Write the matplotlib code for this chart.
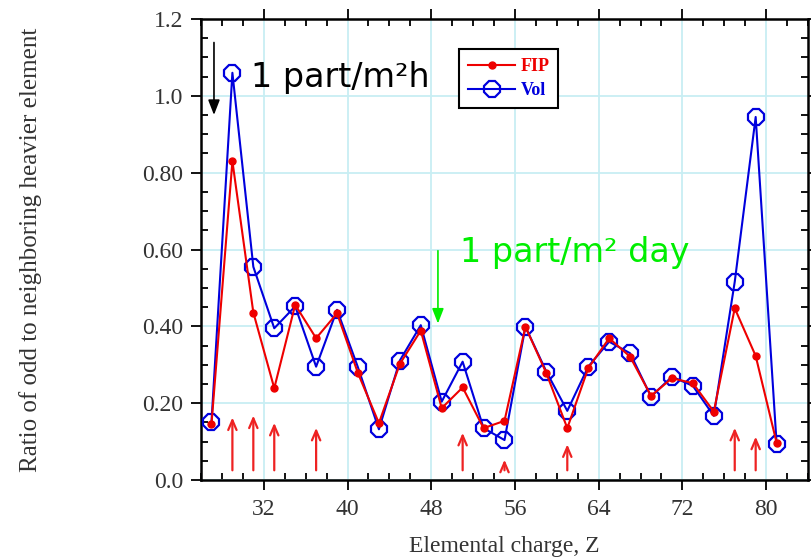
import matplotlib.pyplot as plt
from matplotlib.ticker import MultipleLocator, FixedFormatter, FixedLocator

# odd elements Z and ratio to the next (even) heavier element
z_odd = [27, 29, 31, 33, 35, 37, 39, 41, 43, 45, 47, 49, 51, 53, 55,
         57, 59, 61, 63, 65, 67, 69, 71, 73, 75, 77, 79, 81]
fip = [0.145, 0.83, 0.436, 0.239, 0.456, 0.369, 0.434, 0.278, 0.148, 0.302,
       0.389, 0.187, 0.241, 0.135, 0.154, 0.399, 0.278, 0.135, 0.291, 0.369,
       0.321, 0.219, 0.265, 0.252, 0.178, 0.447, 0.323, 0.097]
vol = [0.15, 1.06, 0.555, 0.395, 0.452, 0.295, 0.443, 0.293, 0.132, 0.311,
       0.403, 0.204, 0.308, 0.135, 0.104, 0.399, 0.282, 0.18, 0.295, 0.36,
       0.33, 0.217, 0.269, 0.245, 0.167, 0.516, 0.945, 0.095]

# small red arrows marking selected elements
arrow_z = [29, 31, 33, 37, 51, 55, 61, 77, 79]
arrow_top = [0.17, 0.175, 0.156, 0.143, 0.13, 0.06, 0.10, 0.143, 0.12]

y_ticks = [0.0, 0.2, 0.4, 0.6, 0.8, 1.0, 1.2]
y_ticklabels = ['0.0', '0.20', '0.40', '0.60', '0.80', '1.0', '1.2']

fig = plt.figure(figsize=(8.11, 5.6), dpi=100)
ax = fig.add_axes([201 / 811, 80 / 560, 607 / 811, 461 / 560])

ax.plot(z_odd, vol, color='#0000dd', lw=1.5, marker='8', ms=13,
        mfc='none', mec='#0000dd', mew=1.6, label='Vol', zorder=3)
ax.plot(z_odd, fip, color='#ee0000', lw=1.5, marker='o', ms=5,
        mfc='#ee0000', mec='#ee0000', label='FIP', zorder=4)

for z, top in zip(arrow_z, arrow_top):
    ax.annotate('', xy=(z, top), xytext=(z, 0.018),
                arrowprops=dict(arrowstyle='->,head_length=0.7,head_width=0.3',
                                color='#ee2222', lw=1.6))

# rate annotations
ax.annotate('', xy=(27.24, 0.943), xytext=(27.24, 1.146),
            arrowprops=dict(arrowstyle='-|>,head_length=0.9,head_width=0.35',
                            color='black', lw=1.2))
ax.text(30.73, 1.024, '1 part/m²h', fontsize=24, color='black',
        ha='left', va='baseline', family='DejaVu Sans')
ax.annotate('', xy=(48.64, 0.40), xytext=(48.64, 0.604),
            arrowprops=dict(arrowstyle='-|>,head_length=0.9,head_width=0.35',
                            color='#00ee00', lw=1.2))
ax.text(50.73, 0.568, '1 part/m² day', fontsize=24, color='#00ee00',
        ha='left', va='baseline', family='DejaVu Sans')

ax.set_xlim(26, 84)
ax.set_ylim(0, 1.2)
ax.xaxis.set_major_locator(FixedLocator([32, 40, 48, 56, 64, 72, 80]))
ax.xaxis.set_minor_locator(MultipleLocator(2))
ax.yaxis.set_major_locator(FixedLocator(y_ticks))
ax.yaxis.set_major_formatter(FixedFormatter(y_ticklabels))
ax.yaxis.set_minor_locator(MultipleLocator(0.05))

ax.grid(True, which='major', color='#c8eef3', lw=1.3, zorder=0)
ax.set_axisbelow(True)

ax.tick_params(which='major', direction='out', length=7, width=1.3,
               top=True, right=True, labelsize=17, labelcolor='#333333')
ax.tick_params(axis='y', which='major', pad=6)
ax.tick_params(axis='x', which='major', pad=7)
ax.tick_params(which='minor', direction='in', length=5, width=1.3,
               top=True, right=True)
for lab in ax.get_xticklabels() + ax.get_yticklabels():
    lab.set_family('Liberation Serif')
for sp in ax.spines.values():
    sp.set_linewidth(1.8)

ax.set_xlabel('Elemental charge, Z', family='Liberation Serif', fontsize=17,
              color='#333333')
ax.set_ylabel('Ratio of odd to neighboring heavier element',
              family='Liberation Serif', fontsize=18, color='#333333')
ax.xaxis.set_label_coords(0.5, -0.122)
ax.yaxis.set_label_coords(-0.262, 0.5)

handles, labels = ax.get_legend_handles_labels()
leg = ax.legend(handles[::-1], labels[::-1], loc='upper left',
                bbox_to_anchor=(459 / 811, 1 - 49 / 560),
                bbox_transform=fig.transFigure, borderaxespad=0,
                fancybox=False, edgecolor='black', framealpha=1,
                prop={'family': 'Liberation Serif', 'weight': 'bold', 'size': 13},
                handlelength=2.6, handletextpad=0.3, labelspacing=0.4,
                borderpad=0.5)
leg.get_frame().set_linewidth(1.5)
for txt, col in zip(leg.get_texts(), ['#ee0000', '#0000dd']):
    txt.set_color(col)

fig.savefig('out.png', dpi=100)
